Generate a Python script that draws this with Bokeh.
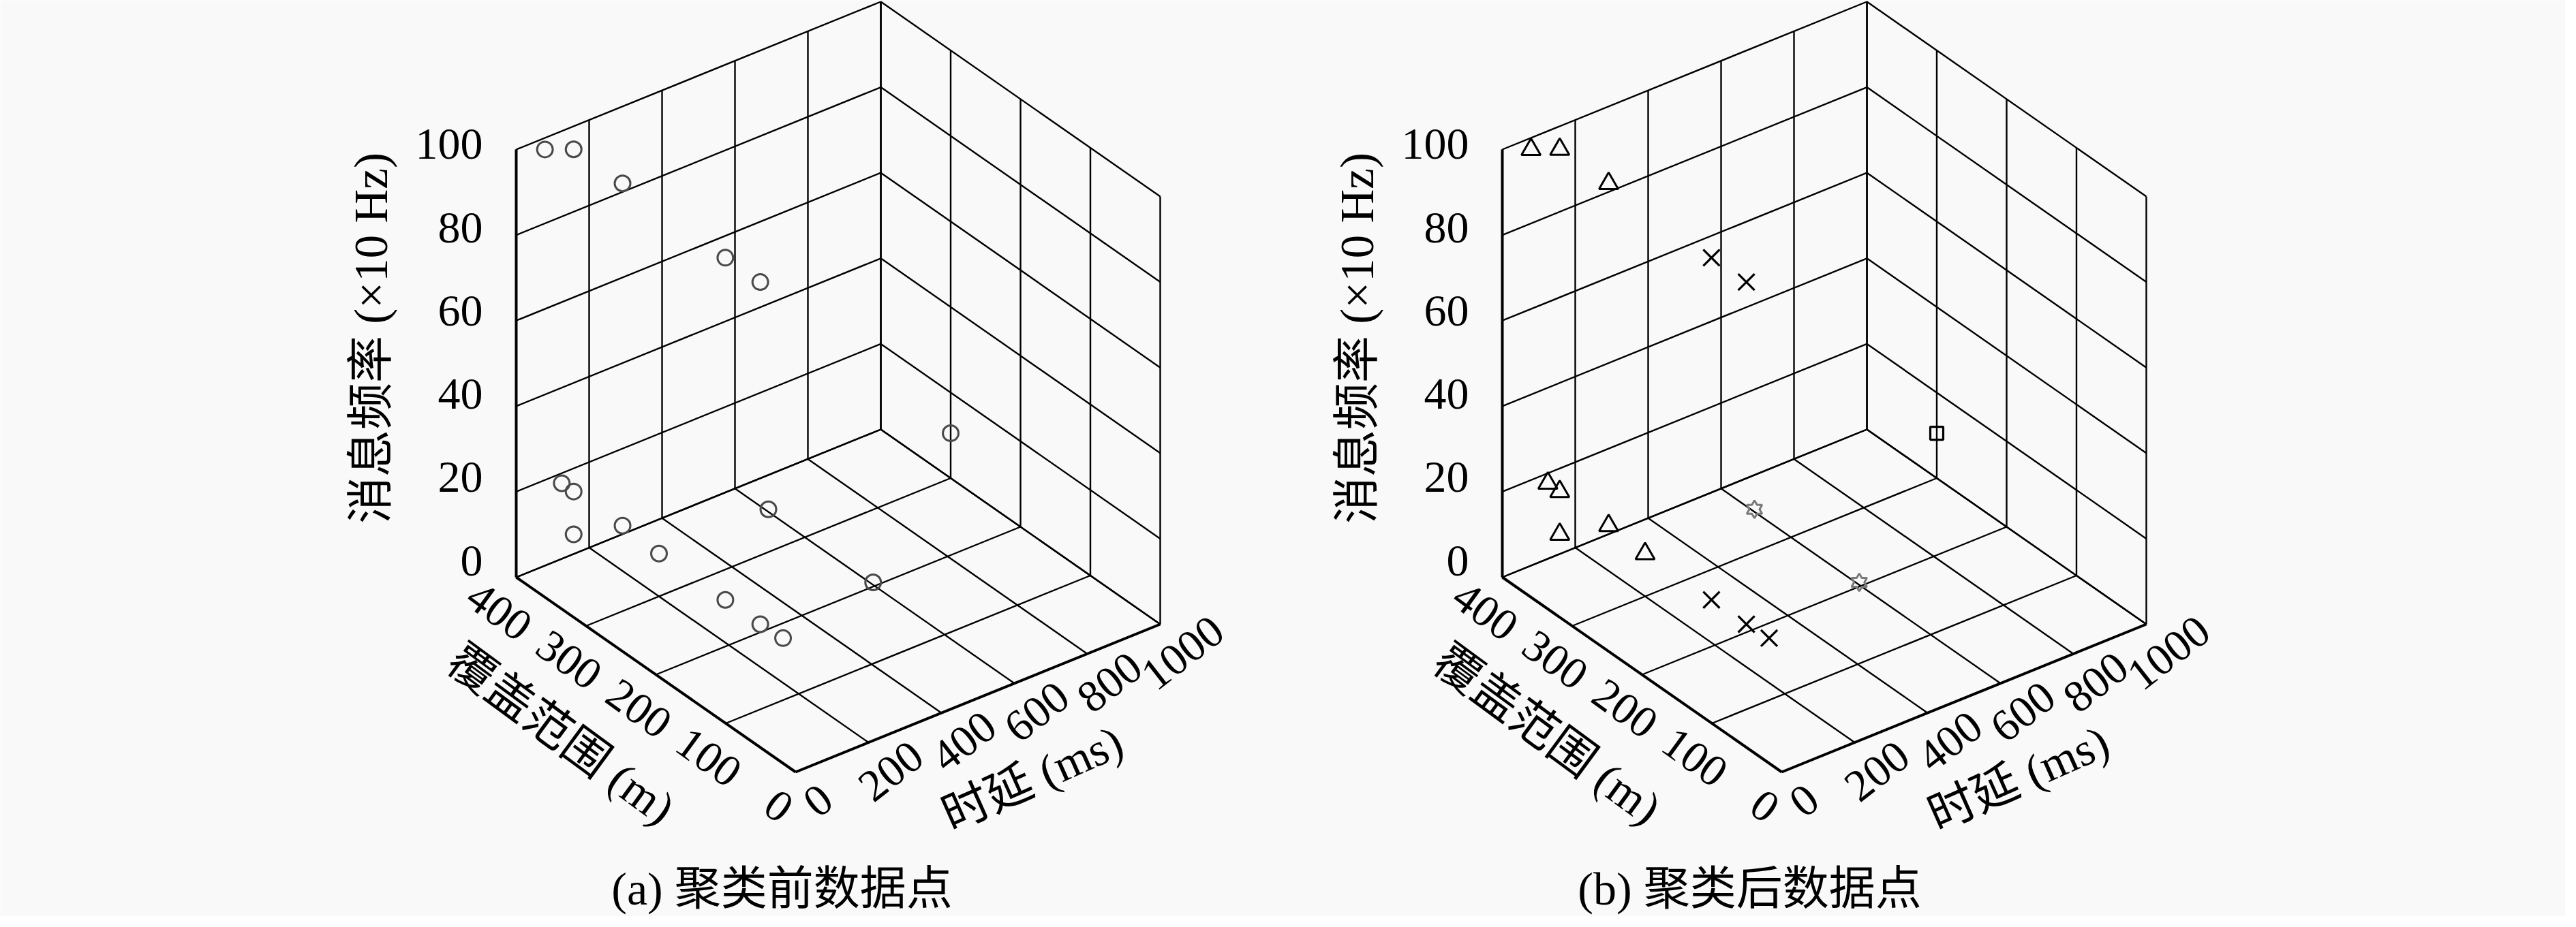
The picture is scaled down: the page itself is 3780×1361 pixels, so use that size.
import math
from bokeh.plotting import figure
from bokeh.models import Range1d
from bokeh.core.properties import value
from bokeh.embed import file_html
from bokeh.resources import INLINE

# ---------------- data ----------------
latency_ms = [50, 100, 100, 200, 200, 1000, 100, 100, 100, 100, 200, 500, 500, 200, 200, 205]
coverage_m = [385, 370, 300, 205, 155, 300, 387, 370, 370, 300, 300, 300, 150, 205, 155, 125]
frequency = [100, 100, 100, 90, 90, 10.5, 20, 20, 10, 20, 10, 10, 10, 10, 10, 10]
cluster = ["A", "A", "A", "B", "B", "D", "A", "A", "A", "A", "A", "C", "C", "B", "B", "B"]

x_ticks = [0, 200, 400, 600, 800, 1000]
y_ticks = [0, 100, 200, 300, 400]
z_ticks = [0, 20, 40, 60, 80, 100]
x_label = "时延 (ms)"
y_label = "覆盖范围 (m)"
z_label = "消息频率 (×10 Hz)"
captions = ["(a) 聚类前数据点", "(b) 聚类后数据点"]

# ---------------- view (orthographic projection, pixel units) ----------------
XMAX, YMAX, ZMAX = 1000.0, 400.0, 100.0
ORIGIN_Y = 1141.0
PANEL_X = [1175.0, 2622.0]
EX = (535.0, -217.0)
EY = (-410.0, -286.0)
EZ = (0.0, -628.0)
CAPTION_POS = [(1155, 1312), (2575, 1312)]

FONT = value("Liberation Serif, Noto Sans CJK SC")
BG = "#f9f9f9"
TICK_FS = "66px"
LABEL_FS = "69px"


def proj(x, y, z, ox):
    u, v, w = x / XMAX, y / YMAX, z / ZMAX
    sx = ox + EX[0] * u + EY[0] * v + EZ[0] * w
    sy = ORIGIN_Y + EX[1] * u + EY[1] * v + EZ[1] * w
    return sx, sy


p = figure(width=3764, height=1345, x_range=Range1d(8, 3772), y_range=Range1d(1353, 8),
           output_backend="svg", toolbar_location=None, min_border=0,
           x_axis_location=None, y_axis_location=None)
p.grid.visible = False
p.outline_line_color = None
p.background_fill_color = BG
p.border_fill_color = BG


def seg(a, b, ox):
    (x0, y0, z0), (x1, y1, z1) = a, b
    s0 = proj(x0, y0, z0, ox)
    s1 = proj(x1, y1, z1, ox)
    return [s0[0], s1[0]], [s0[1], s1[1]]


for pi, ox in enumerate(PANEL_X):
    thin_xs, thin_ys = [], []
    segs = []
    for xt in x_ticks:
        segs.append(((xt, 0, 0), (xt, YMAX, 0)))          # floor
        segs.append(((xt, YMAX, 0), (xt, YMAX, ZMAX)))    # back-left wall
    for yt in y_ticks:
        segs.append(((0, yt, 0), (XMAX, yt, 0)))          # floor
        segs.append(((XMAX, yt, 0), (XMAX, yt, ZMAX)))    # back-right wall
    for zt in z_ticks:
        segs.append(((0, YMAX, zt), (XMAX, YMAX, zt)))
        segs.append(((XMAX, 0, zt), (XMAX, YMAX, zt)))
    for a, b in segs:
        xs, ys = seg(a, b, ox)
        thin_xs.append(xs)
        thin_ys.append(ys)
    p.multi_line(thin_xs, thin_ys, line_color="black", line_width=2.4)

    thick = [((0, 0, 0), (0, YMAX, 0)), ((0, 0, 0), (XMAX, 0, 0)), ((0, YMAX, 0), (0, YMAX, ZMAX))]
    txs, tys = [], []
    for a, b in thick:
        xs, ys = seg(a, b, ox)
        txs.append(xs)
        tys.append(ys)
    p.multi_line(txs, tys, line_color="black", line_width=4)

    # z tick labels (slightly compressed toward the axis middle, as in the source)
    zl = [proj(0, YMAX, zt, ox) for zt in z_ticks]
    zmid = proj(0, YMAX, ZMAX / 2, ox)[1]
    p.text(x=[q[0] - 49 for q in zl],
           y=[q[1] - 16 - 0.027 * (q[1] - zmid) for q in zl],
           text=[str(t) for t in z_ticks],
           text_font=FONT, text_font_size=TICK_FS, text_align="right", text_baseline="middle",
           text_color="black")
    # y tick labels
    yl = [proj(0, yt, 0, ox) for yt in y_ticks]
    p.text(x=[q[0] - 25 for q in yl], y=[q[1] + 50 for q in yl], text=[str(t) for t in y_ticks],
           angle=math.radians(-36), text_font=FONT, text_font_size=TICK_FS,
           text_align="center", text_baseline="middle", text_color="black")
    # x tick labels
    xl = [proj(xt, 0, 0, ox) for xt in x_ticks]
    p.text(x=[q[0] + 33 for q in xl], y=[q[1] + 42 for q in xl], text=[str(t) for t in x_ticks],
           angle=math.radians(38), text_font=FONT, text_font_size=TICK_FS,
           text_align="center", text_baseline="middle", text_color="black")

    # axis labels
    ya = proj(0, YMAX / 2, 0, ox)
    p.text(x=[ya[0] - 139], y=[ya[1] + 88], text=[y_label], angle=math.radians(-36.3),
           text_font=FONT, text_font_size=LABEL_FS, text_align="center", text_baseline="middle",
           text_color="black")
    xa = proj(XMAX / 2, 0, 0, ox)
    p.text(x=[xa[0] + 80], y=[xa[1] + 118], text=[x_label], angle=math.radians(24),
           text_font=FONT, text_font_size=LABEL_FS, text_align="center", text_baseline="middle",
           text_color="black")
    za = proj(0, YMAX, ZMAX / 2, ox)
    p.text(x=[za[0] - 213], y=[za[1] - 37], text=[z_label], angle=math.radians(90),
           text_font=FONT, text_font_size=LABEL_FS, text_align="center", text_baseline="middle",
           text_color="black")

    cx, cy = CAPTION_POS[pi]
    p.text(x=[cx], y=[cy], text=[captions[pi]], text_font=FONT, text_font_size="68px",
           text_align="center", text_baseline="middle", text_color="black")

# ---------------- points ----------------
pts = [proj(x, y, z, 0.0) for x, y, z in zip(latency_ms, coverage_m, frequency)]
sxa = [q[0] + PANEL_X[0] for q in pts]
sxb = [q[0] + PANEL_X[1] for q in pts]
sy = [q[1] for q in pts]

# panel a: all points as grey circles
p.scatter(sxa, sy, marker="circle", size=23, fill_color=None, line_color="#4a4a4a", line_width=3)


# panel b: clusters
def sel(c):
    idx = [i for i, k in enumerate(cluster) if k == c]
    return [sxb[i] for i in idx], [sy[i] for i in idx]


ax_, ay_ = sel("A")
p.scatter(ax_, ay_, marker="triangle", size=28, fill_color=None, line_color="black", line_width=3)
bx_, by_ = sel("B")
p.scatter(bx_, by_, marker="x", size=34, line_color="black", line_width=3.2)
dx_, dy_ = sel("D")
p.scatter(dx_, dy_, marker="square", size=19, fill_color=None, line_color="black", line_width=3.2)
cx_, cy_ = sel("C")
hx, hy = [], []
R_OUT, R_IN = 13.0, 13.0 / math.sqrt(3)
for x0, y0 in zip(cx_, cy_):
    vx, vy = [], []
    for k in range(12):
        ang = math.radians(90 + 30 * k)
        r = R_OUT if k % 2 == 0 else R_IN
        vx.append(x0 + r * math.cos(ang))
        vy.append(y0 - r * math.sin(ang))
    hx.append(vx)
    hy.append(vy)
p.patches(hx, hy, fill_color=None, line_color="#7a7a7a", line_width=3)

html = file_html(p, INLINE)
html = html.replace("<body>", '<body style="background-color:%s;">' % BG, 1)
open("out.html", "w").write(html)
